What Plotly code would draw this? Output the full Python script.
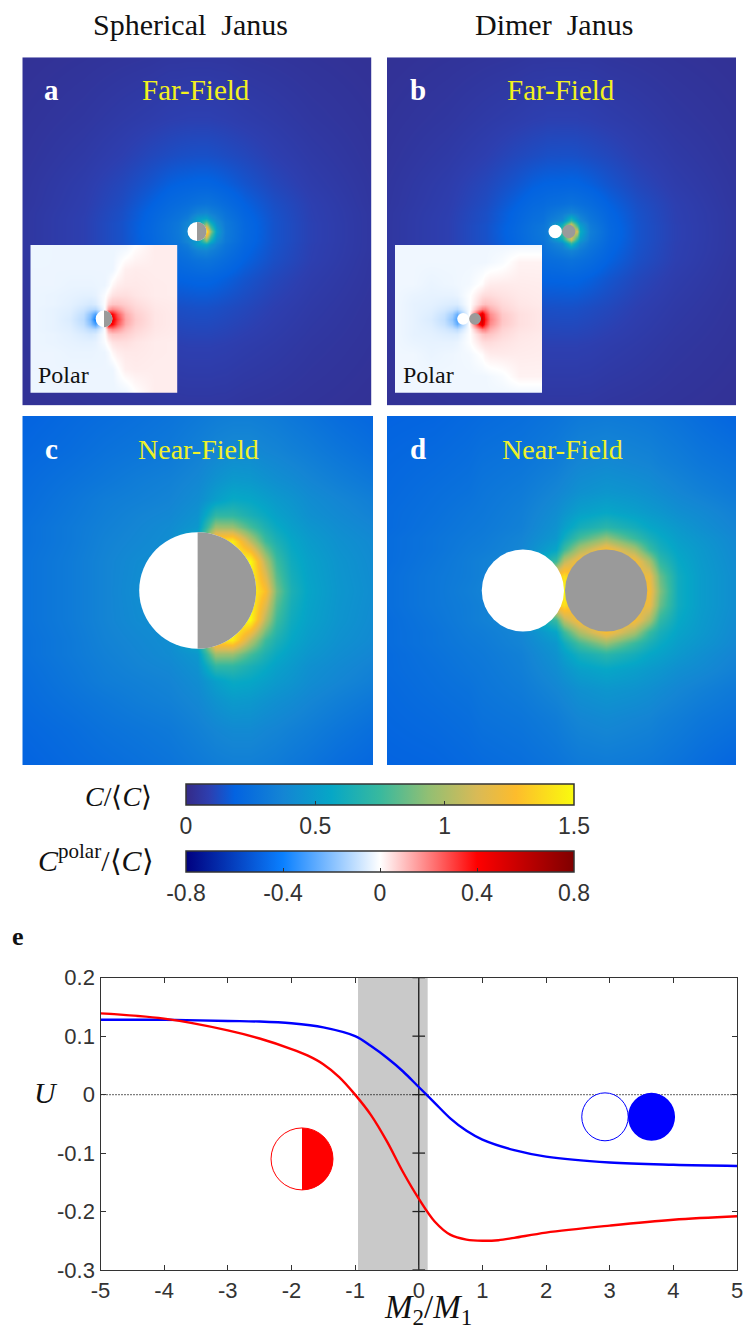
import plotly.graph_objects as go

W, H = 743, 1331

# ---- concentration fields (upper half, y >= 0; mirrored below) ----
FAR_X_A = [-18.4,-12,-8,-5,-3,-2,-1,0,1,1.4,2,3,5,8,12,18.4]
FAR_Y_A = [0,1,1.4,2,3,5,8,12,18.4]
FAR_Z_A = [
 [.055,.09,.14,.21,.27,.31,.40,.5,1.5,.95,.52,.32,.22,.145,.095,.055],
 [.055,.09,.14,.205,.265,.3,.38,.5,.85,.6,.42,.31,.215,.145,.095,.055],
 [.055,.09,.135,.2,.255,.28,.33,.5,.55,.45,.37,.29,.21,.143,.093,.055],
 [.055,.088,.133,.195,.24,.265,.29,.36,.38,.35,.32,.27,.2,.14,.092,.055],
 [.052,.085,.125,.18,.22,.235,.25,.27,.28,.275,.26,.235,.185,.133,.09,.052],
 [.05,.08,.113,.15,.18,.19,.195,.2,.2,.198,.192,.18,.15,.113,.08,.05],
 [.045,.068,.09,.113,.126,.132,.135,.137,.137,.135,.132,.126,.113,.09,.068,.045],
 [.04,.055,.07,.08,.088,.09,.092,.092,.092,.092,.09,.088,.08,.07,.055,.04],
 [.032,.04,.046,.05,.055,.055,.056,.056,.056,.056,.055,.055,.05,.046,.04,.032],
]
FAR_X_B = [-18.4,-12,-8,-5,-3,-2,-1.5,0,1,1.65,2,3,5,8,12,18.4]
FAR_Y_B = [0,.8,1.2,2,3,5,8,12,18.4]
FAR_Z_B = [
 [.055,.09,.14,.21,.27,.3,.33,.8,1.2,1.1,.6,.34,.22,.145,.095,.055],
 [.055,.09,.14,.205,.265,.29,.32,.6,1.1,.7,.5,.32,.215,.145,.095,.055],
 [.055,.09,.135,.2,.255,.27,.31,.4,.7,.5,.4,.3,.21,.143,.093,.055],
 [.055,.088,.133,.195,.24,.255,.275,.33,.37,.34,.32,.27,.2,.14,.092,.055],
 [.052,.085,.125,.18,.22,.23,.24,.255,.27,.26,.255,.235,.185,.133,.09,.052],
 [.05,.08,.113,.15,.18,.19,.192,.195,.198,.196,.192,.18,.15,.113,.08,.05],
 [.045,.068,.09,.113,.126,.132,.135,.137,.137,.135,.132,.126,.113,.09,.068,.045],
 [.04,.055,.07,.08,.088,.09,.092,.092,.092,.092,.09,.088,.08,.07,.055,.04],
 [.032,.04,.046,.05,.055,.055,.056,.056,.056,.056,.055,.055,.05,.046,.04,.032],
]
NEAR_X_C = [-3,-2.2,-1.6,-1.03,-.5,0,.3,.6,.9,1.15,1.35,1.6,1.9,2.4,3]
NEAR_Y_C = [0,.5,.85,1.1,1.3,1.55,1.9,2.4,3]
NEAR_Z_C = [
 [.27,.32,.37,.42,.42,1,1.5,1.5,1.5,1.28,.88,.65,.55,.47,.42],
 [.27,.32,.37,.41,.42,1,1.5,1.5,1.5,1.03,.76,.6,.53,.46,.41],
 [.26,.31,.36,.39,.42,.6,1.4,1.45,1.05,.76,.65,.56,.5,.44,.4],
 [.26,.31,.35,.38,.41,.48,.97,.96,.78,.65,.58,.52,.47,.42,.38],
 [.25,.3,.34,.37,.39,.45,.72,.72,.64,.58,.53,.49,.44,.4,.36],
 [.24,.29,.33,.35,.37,.42,.52,.58,.56,.52,.49,.46,.42,.38,.34],
 [.23,.27,.3,.33,.35,.39,.45,.49,.48,.45,.43,.41,.38,.34,.3],
 [.21,.24,.27,.29,.31,.35,.38,.4,.4,.38,.37,.35,.33,.29,.25],
 [.19,.22,.24,.26,.28,.31,.33,.34,.34,.33,.32,.3,.28,.24,.21],
]
NEAR_X_D = [-3,-2.2,-1.6,-1.37,-.7,-.1,.05,.3,.77,1.25,1.5,1.7,2,2.4,3]
NEAR_Y_D = [0,.25,.5,.72,.9,1.1,1.35,1.7,2.2,3]
NEAR_Z_D = [
 [.25,.3,.34,.36,.4,1.3,1.5,1.2,1.2,1.2,1.25,.9,.6,.5,.42],
 [.25,.3,.33,.35,.4,1.3,1.4,1.2,1.2,1.2,1.2,.85,.6,.5,.42],
 [.24,.29,.33,.35,.4,.75,1.05,1.25,1.2,1.25,1.0,.72,.57,.49,.41],
 [.24,.28,.32,.33,.38,.55,.75,1.0,1.25,1.0,.75,.63,.54,.48,.4],
 [.24,.28,.31,.32,.37,.48,.6,.77,.95,.75,.64,.58,.51,.46,.39],
 [.23,.27,.3,.31,.35,.45,.52,.62,.7,.62,.56,.53,.48,.43,.37],
 [.23,.26,.29,.3,.34,.42,.46,.52,.56,.52,.49,.47,.43,.4,.35],
 [.22,.25,.27,.29,.32,.38,.4,.44,.47,.45,.43,.41,.38,.35,.31],
 [.21,.23,.25,.27,.29,.33,.35,.38,.4,.38,.37,.35,.33,.3,.27],
 [.19,.2,.22,.23,.25,.28,.29,.31,.32,.31,.3,.29,.27,.24,.2],
]
POL_X_A = [-8.8,-6,-4,-2.5,-1.6,-1.05,0,.5,1.05,1.6,2.5,3.7,6,8.8]
POL_Y_A = [0,.6,1.2,1.8,2.8,4,6,8.8]
POL_Z_A = [
 [-.03,-.04,-.06,-.11,-.22,-.42,0,.45,.45,.3,.14,.08,.04,.03],
 [-.03,-.04,-.055,-.1,-.19,-.3,0,.45,.4,.26,.13,.075,.04,.03],
 [-.03,-.04,-.05,-.08,-.11,-.12,-.01,.15,.19,.16,.1,.065,.038,.03],
 [-.03,-.035,-.045,-.06,-.07,-.06,-.005,.07,.09,.09,.075,.055,.035,.03],
 [-.03,-.035,-.04,-.045,-.045,-.04,-.01,.02,.045,.05,.05,.04,.03,.028],
 [-.03,-.03,-.035,-.035,-.035,-.033,-.03,-.015,.012,.028,.035,.035,.03,.028],
 [-.03,-.03,-.03,-.03,-.03,-.03,-.03,-.03,-.028,-.005,.025,.03,.028,.028],
 [-.028,-.03,-.03,-.03,-.03,-.03,-.03,-.03,-.03,-.03,-.028,0,.028,.028],
]
POL_X_B = [-8.8,-6.7,-4.5,-3,-2,-1.45,0,1.6,2,2.6,4,6,8.8]
POL_Y_B = [0,.6,1.2,1.8,2.8,4.2,6.8,8.8]
POL_Z_B = [
 [-.025,-.04,-.06,-.1,-.18,-.3,0,.55,.36,.2,.09,.05,.035],
 [-.025,-.04,-.055,-.09,-.15,-.25,0,.5,.32,.18,.085,.05,.035],
 [-.025,-.04,-.05,-.07,-.09,-.11,-.01,.2,.2,.13,.07,.045,.035],
 [-.025,-.04,-.045,-.055,-.06,-.06,-.005,.09,.1,.09,.06,.04,.032],
 [-.025,-.035,-.04,-.04,-.04,-.035,-.005,.05,.055,.055,.045,.035,.03],
 [-.025,-.025,-.035,-.03,-.028,-.025,-.02,.005,.02,.03,.032,.03,.028],
 [-.025,-.025,-.025,-.025,-.025,-.025,-.025,-.025,-.025,-.02,-.01,.02,.02],
 [-.025,-.025,-.025,-.025,-.025,-.025,-.025,-.025,-.025,-.025,-.025,-.025,-.025],
]

# ---- curves of panel e ----
M_RATIO_BLUE = [-5,-4,-3,-2.5,-2,-1.5,-1,-.75,-.5,-.25,0,.25,.5,.75,1,1.5,2,3,4,5]
U_BLUE = [.128,.128,.126,.125,.122,.115,.1,.083,.063,.04,.013,-.014,-.041,-.062,-.077,-.095,-.106,-.116,-.12,-.122]
M_RATIO_RED = [-5,-4,-3,-2.5,-2,-1.75,-1.5,-1.25,-1,-.75,-.5,-.25,0,.25,.5,.75,1,1.25,1.5,2,3,4,5]
U_RED = [.139,.13,.11,.096,.078,.067,.052,.03,0,-.035,-.08,-.132,-.178,-.217,-.24,-.248,-.25,-.249,-.245,-.236,-.224,-.214,-.208]
X_TICKS = [-5,-4,-3,-2,-1,0,1,2,3,4,5]
X_TICK_TEXT = ["-5","-4","-3","-2","-1","0","1","2","3","4","5"]
Y_TICKS = [-.3,-.2,-.1,0,.1,.2]
Y_TICK_TEXT = ["-0.3","-0.2","-0.1","0","0.1","0.2"]
BAND = [-.954, .14]

CB1_TICKS = [0,.5,1,1.5]
CB1_TEXT = ["0","0.5","1","1.5"]
CB2_TICKS = [-.8,-.4,0,.4,.8]
CB2_TEXT = ["-0.8","-0.4","0","0.4","0.8"]

PARULA = [[0,"#352a87"],[.06,"#2d3fb0"],[.125,"#0363e1"],[.25,"#1485d4"],[.375,"#06a7c6"],
          [.5,"#38b99e"],[.625,"#92bf73"],[.75,"#d9ba56"],[.85,"#fdbc2c"],[1,"#f9fb0e"]]
POLARMAP = [[0,"#00007f"],[.25,"#0a80ff"],[.5,"#ffffff"],[.75,"#ff0000"],[1,"#7f0000"]]

SERIF = "Liberation Serif"
SANS = "Liberation Sans, sans-serif"
GRAY = "#9a9a9a"

def px(a): return a / W
def py(b): return 1 - b / H

def full(ys, rows):
    return [-v for v in ys[:0:-1]] + list(ys), rows[:0:-1] + rows

fig = go.Figure()
axes = {}
def panel(i, box, L, xs, ys, rows, cax):
    yy, zz = full(ys, rows)
    s = "" if i == 1 else str(i)
    fig.add_trace(go.Heatmap(x=xs, y=yy, z=zz, zsmooth="best", coloraxis=cax,
                             xaxis="x"+s, yaxis="y"+s, hoverinfo="skip"))
    common = dict(visible=False, fixedrange=True)
    axes["xaxis"+s] = dict(domain=[px(box[0]), px(box[1])], range=[-L, L], anchor="y"+s, **common)
    axes["yaxis"+s] = dict(domain=[py(box[3]), py(box[2])], range=[-L, L], anchor="x"+s, **common)

panel(1, (22.3,371.7,57.3,405.6), 18.4, FAR_X_A, FAR_Y_A, FAR_Z_A, "coloraxis")
panel(2, (387,736,57.3,405.6), 18.4, FAR_X_B, FAR_Y_B, FAR_Z_B, "coloraxis")
panel(3, (22.3,373,416,765), 3, NEAR_X_C, NEAR_Y_C, NEAR_Z_C, "coloraxis")
panel(4, (387,736,416,765), 3, NEAR_X_D, NEAR_Y_D, NEAR_Z_D, "coloraxis")
panel(5, (30.3,177.7,245,392.7), 8.8, POL_X_A, POL_Y_A, POL_Z_A, "coloraxis2")
panel(6, (395,542.3,245,392.7), 8.8, POL_X_B, POL_Y_B, POL_Z_B, "coloraxis2")

# panel e
axes["xaxis7"] = dict(domain=[px(100.5), px(737)], range=[-5,5], anchor="y7", tickvals=X_TICKS,
    ticktext=X_TICK_TEXT, ticklabeloverflow="allow",
    ticks="inside", ticklen=5, tickcolor="#333", showline=True, linecolor="#333", linewidth=1.3,
    mirror="allticks", showgrid=False, zeroline=False, tickfont=dict(family=SANS, size=22, color="#333"))
axes["yaxis7"] = dict(domain=[py(1270), py(977.7)], range=[-.3,.2], anchor="x7", tickvals=Y_TICKS,
    ticktext=Y_TICK_TEXT, ticks="inside", ticklen=5, tickcolor="#333", showline=True, linecolor="#333",
    linewidth=1.3, mirror="allticks", showgrid=False, zeroline=False,
    tickfont=dict(family=SANS, size=22, color="#333"))
fig.add_trace(go.Scatter(x=[0]*len(Y_TICKS), y=Y_TICKS, mode="markers", xaxis="x7", yaxis="y7",
    marker=dict(symbol="line-ew", size=9, line=dict(width=1.3, color="#222")), hoverinfo="skip"))
fig.add_trace(go.Scatter(x=M_RATIO_BLUE, y=U_BLUE, mode="lines", xaxis="x7", yaxis="y7",
    line=dict(color="#0000ff", width=2.4, shape="spline")))
fig.add_trace(go.Scatter(x=M_RATIO_RED, y=U_RED, mode="lines", xaxis="x7", yaxis="y7",
    line=dict(color="#ff0000", width=2.4, shape="spline")))

K = .5523
def half_right(cx, cy, rx, ry):
    return (f"M{cx},{cy-ry} C{cx+K*rx},{cy-ry} {cx+rx},{cy-K*ry} {cx+rx},{cy} "
            f"C{cx+rx},{cy+K*ry} {cx+K*rx},{cy+ry} {cx},{cy+ry} Z")

shapes = []
def disc(n, cx, cy, rx, ry, fill, line=None, lw=0):
    s = "" if n == 1 else str(n)
    shapes.append(dict(type="circle", xref="x"+s, yref="y"+s, x0=cx-rx, x1=cx+rx, y0=cy-ry, y1=cy+ry,
                       fillcolor=fill, line=dict(color=line or fill, width=lw), layer="above"))
def half(n, cx, cy, rx, ry, fill):
    s = "" if n == 1 else str(n)
    shapes.append(dict(type="path", xref="x"+s, yref="y"+s, path=half_right(cx, cy, rx, ry),
                       fillcolor=fill, line=dict(width=0), layer="above"))

disc(1, 0, 0, 1, 1, "#fff"); half(1, 0, 0, 1, 1, GRAY)
disc(3, 0, 0, 1, 1, "#fff"); half(3, 0, 0, 1, 1, GRAY)
disc(5, 0, 0, 1, 1, "#fff"); half(5, 0, 0, 1, 1, GRAY)
for n in (2, 4, 6):
    disc(n, -.664, 0, .707, .707, "#fff")
    disc(n, .767, 0, .707, .707, GRAY)
# panel e: band, axis lines, icons
shapes.append(dict(type="rect", xref="x7", yref="y7 domain", x0=BAND[0], x1=BAND[1], y0=0, y1=1,
                   fillcolor="#c9c9c9", line=dict(width=0), layer="below"))
shapes.append(dict(type="line", xref="x7", yref="y7 domain", x0=0, x1=0, y0=0, y1=1,
                   line=dict(color="#222", width=1.4), layer="below"))
shapes.append(dict(type="line", xref="x7 domain", yref="y7", x0=0, x1=1, y0=0, y1=0,
                   line=dict(color="#000", width=1.2, dash="1px,2px"), layer="below"))
disc(7, -1.834, -.11, .487, .053, "#fff", "#ff0000", 1)
half(7, -1.834, -.11, .487, .053, "#ff0000")
disc(7, 2.926, -.038, .365, .041, "#fff", "#0000ff", 1)
disc(7, 3.657, -.038, .37, .041, "#0000ff")

ann = []
def text(t, x, y, size, color="#111", family=SERIF, anchor="center"):
    ann.append(dict(text=t, xref="paper", yref="paper", x=px(x), y=py(y), xanchor=anchor, yanchor="middle",
                    showarrow=False, font=dict(family=family, size=size, color=color)))
text("Spherical  Janus", 190, 24, 30)
text("Dimer  Janus", 554, 24, 30)
for t, x, y in (("a",52,90),("b",418,90),("c",52,449),("d",418,449)):
    text(f"<b>{t}</b>", x, y, 29, "#fff")
text("Far-Field", 196, 90, 29, "#f2f01e")
text("Far-Field", 561, 90, 29, "#f2f01e")
text("Near-Field", 198, 449, 28, "#eef02a")
text("Near-Field", 562, 449, 28, "#eef02a")
text("Polar", 63, 375, 24)
text("Polar", 428, 375, 24)
text("<i>C</i>/⟨<i>C</i>⟩", 154, 796, 28, anchor="right")
text("<i>C</i><sup>polar</sup>/⟨<i>C</i>⟩", 156, 858, 30, anchor="right")
text("<b>e</b>", 18, 936, 26)
text("<i>U</i>", 46, 1092, 30)
text("<i>M</i><sub>2</sub>/<i>M</i><sub>1</sub>", 428, 1309, 33)

def cbar(ticks, labels, top):
    return dict(orientation="h", thickness=21, len=388, lenmode="pixels", x=px(380), xanchor="center",
                y=py(top), yanchor="top", xpad=0, ypad=0, tickvals=ticks, ticktext=labels,
                ticks="inside", ticklen=4, tickcolor="#333", outlinecolor="#333", outlinewidth=1.5,
                tickfont=dict(family=SANS, size=23, color="#333"))

fig.update_layout(
    width=W, height=H, margin=dict(l=0, r=0, t=0, b=0, pad=0, autoexpand=False),
    paper_bgcolor="#fff", plot_bgcolor="rgba(0,0,0,0)", showlegend=False,
    coloraxis=dict(colorscale=PARULA, cmin=0, cmax=1.5, colorbar=cbar(CB1_TICKS, CB1_TEXT, 784)),
    coloraxis2=dict(colorscale=POLARMAP, cmin=-.8, cmax=.8, colorbar=cbar(CB2_TICKS, CB2_TEXT, 851)),
    shapes=shapes, annotations=ann, **axes)

fig.write_html("out.html", config={"displayModeBar": False}, post_script="document.body.style.margin='0';")
